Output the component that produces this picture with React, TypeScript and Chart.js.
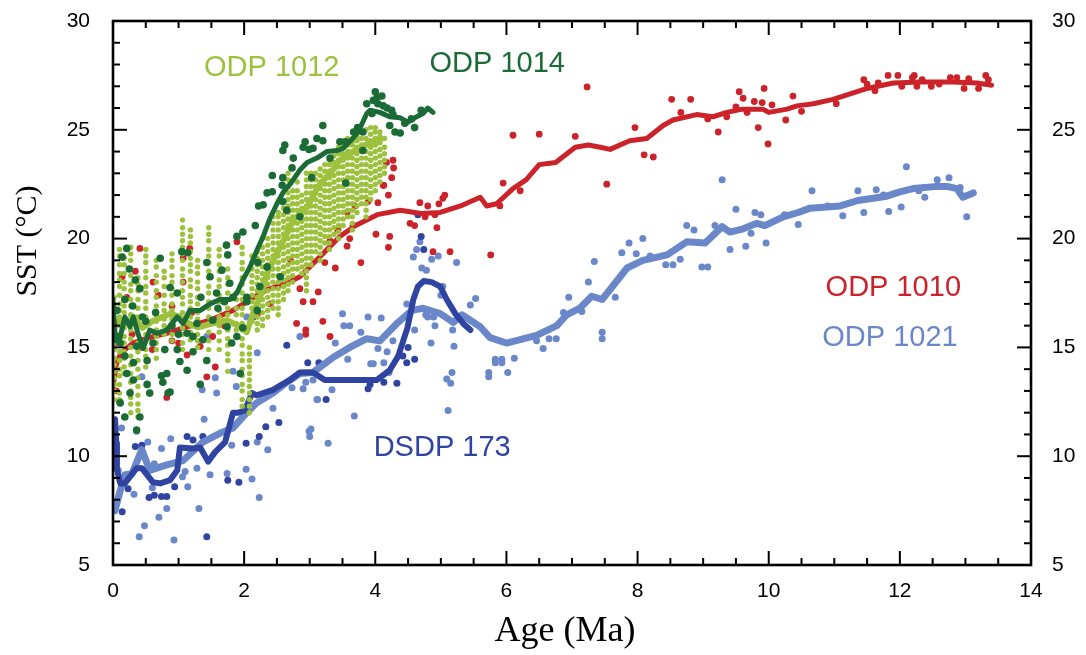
import React, { useEffect, useRef } from 'react';
import { Chart, registerables } from 'chart.js';
Chart.register(...registerables);

type P = [number, number];

// ---------- axis settings ----------
const xRange: P = [0, 14];
const yRange: P = [5, 30];
const xMajorStep = 2;
const xMinorStep = 0.5;
const yMajorStep = 5;
const yMinorStep = 1;

// ---------- ODP 1010 (red) ----------
const odp1010Line: P[] = [
  [0, 13.2], [0.05, 14.2], [0.1, 14.6], [0.15, 14.8], [0.3, 15.2], [0.5, 15.4], [0.82, 15.65], [1.13, 15.95],
  [1.48, 16.25], [1.83, 16.7], [2.09, 17.2], [2.35, 17.65], [2.65, 17.95], [2.85, 18.25], [3.1, 19.0], [3.46, 20.1],
  [3.7, 20.6], [4.03, 21.1], [4.38, 21.3], [4.7, 21.15], [4.99, 21.2], [5.3, 21.5], [5.6, 21.9], [5.7, 21.5],
  [5.85, 21.6], [6.1, 22.3], [6.3, 22.7], [6.5, 23.4], [6.75, 23.5], [7.05, 24.2], [7.25, 24.3], [7.43, 24.2],
  [7.58, 24.1], [7.88, 24.5], [8.14, 24.6], [8.39, 25.2], [8.54, 25.45], [8.9, 25.7], [9.15, 25.6], [9.36, 25.8],
  [9.6, 25.95], [9.91, 25.95], [10.0, 25.8], [10.28, 25.95], [10.43, 26.1], [10.68, 26.2], [10.98, 26.4],
  [11.29, 26.7], [11.5, 26.9], [11.9, 27.15], [12.3, 27.2], [12.8, 27.2], [13.18, 27.15], [13.4, 27.05],
];
const odp1010Pts: P[] = [
  [0.41, 19.55], [0.34, 18.5], [0.14, 18.25], [0.61, 18.0], [0.21, 17.3], [0.69, 17.4], [1.17, 19.55], [1.07, 19.1],
  [1.07, 18.0], [1.2, 16.6], [1.33, 15.05], [1.13, 14.65], [1.56, 14.1], [1.43, 13.65], [0.82, 12.7], [0.29, 15.6],
  [1.52, 15.5], [1.89, 19.85], [2.71, 19.0], [2.8, 16.1], [0.05, 13.0], [0.1, 12.5], [0.45, 15.0], [0.6, 14.9],
  [0.9, 15.3], [1.0, 15.2], [1.7, 16.0], [2.2, 16.5], [2.4, 17.0], [0.03, 15.2], [0.12, 16.2], [0.9, 16.9],
  [4.12, 22.45], [4.2, 22.0], [4.04, 21.65], [3.89, 21.7], [3.69, 21.5], [3.57, 21.2], [4.68, 21.65], [4.8, 21.5],
  [4.97, 21.6], [5.03, 21.85], [5.06, 22.0], [4.53, 20.7], [4.6, 20.6], [4.76, 21.0], [4.91, 21.1], [4.94, 20.5],
  [4.88, 19.4], [5.14, 19.4], [5.76, 19.25], [5.95, 22.55], [6.21, 22.2], [5.9, 21.5], [7.53, 22.5], [3.43, 20.4],
  [3.66, 20.6], [3.61, 20.0], [3.31, 19.9], [3.57, 19.65], [4.01, 20.2], [4.22, 20.1], [4.2, 19.6], [3.78, 18.9],
  [3.39, 18.65], [3.23, 18.9], [3.13, 17.55], [2.85, 17.7], [2.9, 17.1], [3.05, 17.1], [3.2, 16.2], [2.94, 15.8],
  [2.94, 15.6], [3.31, 15.5], [4.17, 23.5], [4.27, 23.6], [4.28, 23.25], [4.25, 22.8], [4.13, 22.45],
  [6.1, 24.75], [6.5, 24.8], [7.23, 26.97], [7.05, 24.7], [7.96, 25.1], [8.1, 23.85], [8.24, 23.75], [8.52, 26.4],
  [8.66, 25.8], [8.81, 26.4], [9.07, 25.5], [9.23, 24.9], [9.36, 25.6], [9.5, 26.05], [9.55, 26.75], [9.61, 26.45],
  [9.67, 25.8], [9.78, 26.3], [9.84, 25.1], [9.9, 26.25], [9.93, 26.9], [9.99, 24.35], [10.05, 26.15],
  [10.26, 25.45], [10.37, 26.55], [10.5, 25.85], [11.03, 26.2], [11.45, 27.3], [11.5, 27.1], [11.62, 26.8],
  [11.67, 27.15], [11.82, 27.5], [11.97, 27.5], [12.03, 27.0], [12.19, 27.4], [12.22, 27.5], [12.26, 27.0],
  [12.34, 27.3], [12.48, 27.0], [12.6, 27.1], [12.77, 27.4], [12.87, 27.4], [12.98, 26.9], [13.05, 27.35],
  [13.2, 26.9], [13.31, 27.5], [13.35, 27.3],
];

// ---------- ODP 1021 (light blue) ----------
const odp1021Line: P[] = [
  [0.03, 7.5], [0.1, 8.3], [0.18, 9.15], [0.29, 9.2], [0.44, 10.3], [0.56, 9.35], [0.82, 9.6], [1.07, 9.8],
  [1.37, 10.65], [1.63, 11.05], [1.83, 11.3], [2.04, 12.0], [2.19, 12.45], [2.44, 12.9], [2.65, 13.4], [2.85, 13.8],
  [3.05, 13.85], [3.36, 14.55], [3.61, 15.0], [3.87, 15.4], [4.07, 15.3], [4.33, 16.1], [4.56, 16.7], [4.73, 16.8],
  [4.99, 16.55], [5.19, 16.15], [5.32, 16.5], [5.6, 15.95], [5.75, 15.45], [6.0, 15.2], [6.46, 15.55], [6.77, 16.0],
  [6.92, 16.5], [7.12, 16.8], [7.3, 17.35], [7.46, 17.2], [7.84, 18.65], [8.08, 19.0], [8.45, 19.25], [8.75, 19.85],
  [9.03, 19.8], [9.29, 20.55], [9.41, 20.3], [9.61, 20.45], [9.82, 20.7], [9.94, 20.6], [10.22, 21.0],
  [10.45, 21.2], [10.63, 21.4], [11.09, 21.5], [11.36, 21.75], [11.8, 21.95], [12.0, 22.15], [12.2, 22.3],
  [12.57, 22.4], [12.72, 22.4], [12.87, 22.3], [12.96, 21.9], [13.12, 22.1],
];
const odp1021Pts: P[] = [
  [9.29, 22.7], [9.5, 21.35], [9.41, 19.5], [9.65, 19.65], [9.73, 20.25], [9.79, 21.2], [9.88, 21.1], [9.96, 19.8],
  [10.24, 21.1], [10.45, 20.65], [10.66, 22.2], [10.9, 21.5], [11.13, 21.05], [11.36, 22.2], [11.45, 21.2],
  [11.64, 22.25], [11.75, 22.0], [11.83, 21.25], [12.02, 21.45], [12.1, 23.3], [12.29, 22.2], [12.38, 21.9],
  [12.57, 22.7], [12.75, 22.8], [12.92, 22.35], [13.02, 21.0], [7.76, 19.35], [7.87, 19.8], [7.98, 19.3],
  [8.08, 20.0], [8.19, 19.2], [8.43, 18.8], [8.54, 18.8], [8.65, 19.05], [8.75, 20.6], [8.86, 20.4], [8.98, 18.7],
  [9.07, 18.7], [9.18, 20.6], [7.66, 17.3], [7.46, 15.7], [7.46, 15.4],
  [7.34, 18.95], [7.25, 18.0], [6.95, 17.3], [6.87, 16.6], [7.15, 16.65], [6.46, 15.3], [6.56, 14.95], [6.65, 15.4],
  [6.76, 15.4], [6.12, 14.5], [6.02, 13.85], [5.93, 14.45], [5.93, 14.3], [5.83, 14.45], [5.83, 14.3],
  [5.73, 13.85], [5.73, 13.65], [5.53, 17.25], [5.45, 16.95], [5.24, 18.9], [5.2, 15.05], [5.18, 15.8],
  [5.17, 13.85], [5.15, 13.35], [5.09, 13.55], [5.11, 12.1], [5.03, 17.8], [5.0, 17.4], [4.91, 16.0], [4.89, 16.4],
  [4.8, 16.4], [4.77, 16.5], [4.85, 15.2], [4.86, 19.05], [4.96, 19.2], [4.71, 18.65], [4.78, 18.55], [4.58, 19.15],
  [4.63, 19.5], [4.68, 19.85], [4.6, 15.8], [4.48, 17.0], [4.27, 15.3], [4.18, 14.8], [4.04, 14.95], [4.09, 16.35],
  [3.89, 16.4], [3.78, 15.7], [3.61, 16.0], [3.52, 16.0], [3.5, 16.55], [3.39, 15.2], [3.58, 14.45], [3.93, 14.25],
  [3.97, 14.25], [4.13, 14.3], [4.21, 13.85], [3.05, 13.5], [2.94, 13.4], [2.9, 13.1], [3.34, 13.05], [3.12, 12.6],
  [3.68, 11.85], [3.02, 11.25],
  [0.13, 11.3], [0.08, 9.35], [0.36, 11.15], [0.53, 10.65], [0.32, 8.25], [0.4, 6.3], [0.48, 6.8], [0.63, 9.65],
  [0.6, 8.55], [0.7, 7.2], [0.74, 10.35], [0.82, 7.6], [0.88, 10.8], [0.93, 6.15], [1.06, 9.05], [1.1, 9.3],
  [1.14, 8.6], [1.28, 9.45], [1.31, 7.6], [1.36, 13.05], [1.39, 11.7], [1.58, 12.9], [1.48, 9.15], [1.74, 9.2],
  [1.81, 10.5], [1.88, 13.2], [2.03, 9.4], [2.12, 8.95], [2.2, 10.65], [2.23, 8.1], [2.36, 10.3], [2.44, 12.2],
  [2.73, 13.15], [2.99, 11.15], [3.0, 10.9], [3.11, 12.6], [3.28, 10.6],
  [0.44, 13.65], [2.04, 16.4], [1.43, 15.5], [1.56, 13.6], [2.2, 14.75], [1.83, 13.9], [2.85, 15.5],
];

// ---------- DSDP 173 (dark blue) ----------
const dsdp173Line: P[] = [
  [0.03, 11.7], [0.05, 10.6], [0.06, 9.4], [0.11, 8.75], [0.18, 8.75], [0.36, 9.45], [0.44, 9.45], [0.61, 8.8],
  [0.72, 8.75], [0.87, 8.9], [0.98, 9.35], [1.02, 10.4], [1.22, 10.35], [1.33, 10.4], [1.45, 9.75], [1.56, 10.2],
  [1.71, 10.65], [1.83, 12.0], [1.91, 12.0], [2.01, 12.1], [2.12, 12.9], [2.19, 12.8], [2.29, 12.9], [2.44, 13.05],
  [2.58, 13.3], [2.7, 13.5], [2.85, 13.85], [3.05, 13.85], [3.23, 13.5], [3.46, 13.5], [3.84, 13.5], [4.02, 13.5],
  [4.22, 13.95], [4.35, 14.6], [4.49, 15.9], [4.58, 17.2], [4.65, 17.8], [4.74, 18.05], [4.86, 18.0], [4.99, 17.8],
  [5.09, 17.2], [5.22, 16.55], [5.34, 16.1], [5.45, 15.8],
];
const dsdp173Pts: P[] = [
  [4.65, 21.1], [4.7, 20.1], [4.74, 19.5], [2.97, 14.3], [3.14, 14.3], [3.25, 12.6], [3.89, 13.1], [3.92, 13.3],
  [4.13, 13.4], [4.33, 13.35], [4.42, 14.6], [4.48, 14.3], [4.6, 14.45], [0.34, 10.45], [0.44, 10.5], [0.23, 8.5],
  [0.14, 7.45], [0.55, 8.1], [0.63, 8.2], [0.74, 8.15], [0.82, 8.15], [0.94, 8.6], [1.13, 10.9], [1.22, 10.75],
  [1.37, 10.9], [1.43, 6.3], [1.75, 8.9], [1.92, 8.8], [2.03, 10.6], [2.23, 10.9], [2.33, 11.35], [2.53, 11.55],
  [0.02, 11.3], [4.5, 15.0], [2.14, 16.4], [2.65, 15.1],
];

// ---------- ODP 1014 (dark green) ----------
const odp1014Line: P[] = [
  [0, 17.2], [0.03, 15.65], [0.1, 15.35], [0.18, 16.4], [0.26, 15.95], [0.31, 16.4], [0.38, 15.65], [0.46, 14.95],
  [0.56, 15.8], [0.67, 15.65], [0.82, 15.8], [0.98, 16.4], [1.07, 16.1], [1.17, 16.7], [1.33, 16.7], [1.48, 17.0],
  [1.63, 17.2], [1.78, 17.2], [1.89, 17.5], [1.98, 18.1], [2.09, 18.7], [2.2, 19.5], [2.29, 20.1], [2.39, 20.9],
  [2.5, 21.6], [2.6, 22.15], [2.7, 22.5], [2.85, 23.15], [2.96, 23.5], [3.11, 23.7], [3.26, 24.0], [3.42, 24.05],
  [3.51, 24.15], [3.64, 24.55], [3.74, 24.9], [3.87, 25.75], [3.92, 25.9], [4.07, 25.8], [4.22, 25.6],
  [4.38, 25.55], [4.5, 25.35], [4.63, 25.6], [4.73, 25.75], [4.8, 26.0], [4.88, 25.8],
];
const odp1014Pts: P[] = [
  [0.21, 19.55], [0.14, 19.15], [0.34, 18.1], [0.41, 17.7], [0.18, 17.2], [0.72, 19.1], [0.87, 17.75], [0.98, 17.5],
  [1.05, 19.4], [1.14, 19.35], [1.43, 18.9], [1.48, 18.25], [1.34, 17.3], [1.58, 17.5], [1.66, 18.55], [1.75, 19.25],
  [1.78, 17.95], [1.83, 17.3], [2.04, 17.3], [2.21, 18.9], [2.35, 18.7], [2.24, 17.8], [2.55, 18.25], [2.65, 21.3],
  [2.59, 21.7], [0.06, 16.7], [0.06, 15.35], [0.11, 15.2], [0.18, 14.6], [0.31, 14.3], [0.21, 13.8], [0.31, 13.5],
  [0.26, 12.9], [0.11, 12.45], [0.18, 11.8], [0.36, 11.2], [0.41, 11.8], [0.52, 13.3], [0.56, 12.9], [0.74, 13.7],
  [0.76, 13.4], [0.87, 12.95], [0.82, 13.8], [0.61, 15.2], [0.79, 14.9], [0.98, 14.9], [1.02, 14.35], [1.13, 13.95],
  [1.22, 15.5], [1.37, 15.35], [1.22, 14.8], [1.43, 14.4], [1.33, 13.3], [0.84, 12.9], [0.36, 15.05], [0.52, 14.4],
  [1.13, 15.65], [1.28, 16.1], [1.52, 16.25], [1.74, 15.95], [1.81, 15.2], [1.89, 15.5], [1.98, 15.9], [1.94, 13.8],
  [2.04, 17.1], [2.2, 16.7], [2.17, 20.6], [1.89, 20.1], [1.98, 20.3], [1.73, 19.7],
  [0.5, 16.2], [0.65, 16.6], [0.9, 16.0], [1.0, 15.6], [1.6, 16.8], [1.7, 17.1], [0.3, 16.9], [0.45, 16.4], [0.25, 18.6],
  [4.0, 26.75], [4.03, 26.5], [4.1, 26.55], [3.97, 26.35], [4.04, 26.2], [4.12, 26.1], [4.18, 26.0], [4.25, 25.9],
  [4.27, 25.7], [4.22, 25.2], [4.3, 24.9], [4.38, 24.85], [3.87, 26.2], [3.95, 25.75], [3.81, 24.9], [3.73, 25.1],
  [3.67, 24.9], [3.55, 24.45], [3.55, 22.55], [3.81, 24.05], [3.46, 24.45], [3.2, 25.2], [3.11, 24.6], [3.2, 24.5],
  [2.93, 24.45], [2.9, 24.2], [3.05, 24.15], [2.99, 24.1], [2.62, 24.3], [2.59, 24.05], [2.75, 23.7], [2.73, 23.25],
  [3.31, 23.7], [3.03, 22.8], [2.59, 22.8], [2.43, 22.9], [2.58, 22.45], [2.43, 22.15], [2.35, 22.1], [2.29, 21.55],
  [2.22, 21.5], [2.85, 21.0], [4.45, 25.3], [4.55, 25.5], [4.6, 25.1], [4.7, 25.9],
];

// ---------- ODP 1012 (yellow-green) ----------
const odp1012Line: P[] = [
  [0, 15.95], [0.1, 16.25], [0.21, 16.1], [0.31, 16.4], [0.45, 15.9], [0.6, 16.2], [0.87, 16.55], [1.02, 16.4],
  [1.2, 16.0], [1.33, 15.95], [1.52, 16.1], [1.74, 16.25], [1.94, 15.95], [2.04, 15.7], [2.14, 16.6], [2.24, 17.3],
  [2.35, 18.4], [2.44, 19.0], [2.55, 19.6], [2.65, 20.25], [2.75, 20.85], [2.96, 21.45], [3.13, 22.4], [3.31, 23.0],
  [3.46, 23.6], [3.61, 23.9], [3.77, 24.2], [3.92, 24.4], [4.07, 24.5],
];
// sample columns: [age, SST values measured at that age]
const odp1012Cols: [number, number[]][] = [
  [0.02, [17.3, 17.0, 16.6, 16.2, 15.9, 15.5, 15.2, 14.9, 14.5, 14.2, 13.9, 13.6, 13.3, 13.0, 12.6]],
  [0.1, [19.5, 19.2, 18.8, 18.4, 18.1, 17.8, 17.4, 17.0, 16.7, 16.4, 16.0, 15.6, 15.2, 14.8, 14.4, 14.0, 13.7, 13.3, 12.9, 12.6]],
  [0.17, [19.1, 18.8, 18.4, 18.0, 17.7, 17.3, 16.9, 16.6, 16.2, 15.9, 15.5, 15.2, 14.8, 14.5, 14.1, 13.8]],
  [0.27, [19.6, 19.3, 19.0, 18.6, 18.3, 17.9, 17.6, 17.2, 16.9, 16.5, 16.2, 15.8, 15.4, 15.0, 14.6, 14.2, 13.8, 13.4, 13.0, 12.7, 12.4, 12.0]],
  [0.38, [18.2, 17.9, 17.6, 17.2, 16.8, 16.4, 16.0, 15.6, 15.2, 14.8, 14.4, 14.0, 13.6, 13.2, 12.8, 12.4, 12.1, 11.8]],
  [0.5, [19.5, 19.2, 18.9, 18.5, 18.2, 17.8, 17.5, 17.1, 16.8, 16.4, 16.0, 15.6, 15.3, 14.9, 14.6, 14.1]],
  [0.66, [19.0, 18.7, 18.3, 18.0, 17.6, 17.3, 16.9, 16.5, 16.2, 15.8, 15.5, 15.2, 14.9, 14.5]],
  [0.78, [18.5, 18.2, 17.8, 17.4, 17.0, 16.7, 16.3, 16.0, 15.6]],
  [0.9, [19.3, 19.0, 18.7, 18.3, 18.0, 17.7, 17.4, 17.0, 16.7, 16.3, 16.0, 15.6, 15.3]],
  [1.06, [20.85, 20.5, 20.2, 19.9, 19.6, 19.3, 19.0, 18.6, 18.3, 18.0, 17.6, 17.3, 17.0, 16.6, 16.3, 15.9, 15.6, 15.2, 14.9]],
  [1.18, [20.4, 20.1, 19.8, 19.4, 19.1, 18.8, 18.5, 18.1, 17.8, 17.4, 17.1, 16.8, 16.4, 16.1, 15.7, 15.35]],
  [1.29, [19.0, 18.7, 18.4, 18.0, 17.7, 17.3, 17.0, 16.6, 16.3, 15.9, 15.6, 15.3, 15.0]],
  [1.46, [20.5, 20.2, 19.9, 19.5, 19.2, 18.9, 18.5, 18.2, 17.8, 17.5, 17.1, 16.8, 16.4, 16.1, 15.7, 15.3, 14.9]],
  [1.62, [19.5, 19.2, 18.8, 18.5, 18.1, 17.8, 17.4, 17.1, 16.7, 16.4, 16.0, 15.7, 15.3, 14.9]],
  [1.75, [18.6, 18.2, 17.9, 17.5, 17.2, 16.8, 16.5, 16.1, 15.8, 15.4, 15.1, 14.7, 14.4, 13.9]],
  [1.88, [17.5, 17.2, 16.8, 16.5, 16.1, 15.8, 15.5]],
  [1.97, [19.6, 19.3, 18.9, 18.6, 18.2, 17.9, 17.5, 17.2, 16.8, 16.5, 16.1, 15.8, 15.4, 15.1, 14.7, 14.4, 14.0, 13.7, 13.3, 13.0, 12.6, 12.3]],
  [2.08, [15.0, 14.7, 14.4, 14.1, 13.8, 13.5, 13.2, 12.9, 12.6, 12.3, 12.0]],
  [2.12, [16.2, 16.5, 16.8, 17.1, 17.4, 17.7, 18.0, 18.3, 18.6, 18.9, 19.2]],
  [2.2, [15.8, 16.1, 16.4, 16.7, 17.0, 17.3, 17.6, 17.9, 18.2, 18.5, 18.8, 19.1, 19.4]],
  [2.28, [16.0, 16.3, 16.6, 16.9, 17.2, 17.5, 17.8, 18.1, 18.4, 18.7, 19.0, 19.3, 19.6, 20.0]],
  [2.36, [16.4, 16.7, 17.0, 17.3, 17.6, 17.9, 18.2, 18.5, 18.8, 19.1, 19.4, 19.7, 20.0]],
  [2.44, [16.8, 17.1, 17.4, 17.7, 18.0, 18.3, 18.6, 18.9, 19.2, 19.5, 19.8, 20.1, 20.4, 20.7, 21.0]],
  [2.52, [16.5, 16.8, 17.1, 17.4, 17.7, 18.0, 18.3, 18.6, 18.9, 19.2, 19.5, 19.8, 20.1, 20.4, 20.7, 21.0, 21.2]],
  [2.6, [17.2, 17.5, 17.8, 18.1, 18.4, 18.7, 19.0, 19.3, 19.6, 19.9, 20.2, 20.5, 20.8, 21.1, 21.4]],
  [2.67, [17.6, 17.9, 18.2, 18.5, 18.8, 19.1, 19.4, 19.7, 20.0, 20.3, 20.6, 20.9, 21.2, 21.5, 21.8, 22.1, 22.4, 22.7, 23.0]],
  [2.74, [18.0, 18.3, 18.6, 18.9, 19.2, 19.5, 19.8, 20.1, 20.4, 20.7, 21.0, 21.3, 21.6, 21.9, 22.2]],
  [2.81, [18.6, 18.9, 19.2, 19.5, 19.8, 20.1, 20.4, 20.7, 21.0, 21.3, 21.6, 21.9, 22.2, 22.6]],
  [2.88, [18.4, 18.7, 19.0, 19.3, 19.6, 19.9, 20.2, 20.5, 20.8, 21.1, 21.4, 21.7, 22.0]],
  [2.95, [17.6, 17.9, 18.2, 18.5, 18.8, 19.1, 19.4, 19.7, 20.0, 20.3, 20.6, 20.9, 21.2, 21.5, 21.8, 22.1, 22.4, 22.7, 23.0]],
  [3.02, [18.8, 19.1, 19.4, 19.7, 20.0, 20.3, 20.6, 20.9, 21.2, 21.5, 21.8, 22.1, 22.4, 22.7, 23.0]],
  [3.09, [19.4, 19.7, 20.0, 20.3, 20.6, 20.9, 21.2, 21.5, 21.8, 22.1, 22.4, 22.7, 23.0]],
  [3.16, [19.0, 19.3, 19.6, 19.9, 20.2, 20.5, 20.8, 21.1, 21.4, 21.7, 22.0, 22.3, 22.6, 22.9, 23.2]],
  [3.23, [19.8, 20.1, 20.4, 20.7, 21.0, 21.3, 21.6, 21.9, 22.2, 22.5, 22.8, 23.1, 23.4]],
  [3.3, [19.5, 19.8, 20.1, 20.4, 20.7, 21.0, 21.3, 21.6, 21.9, 22.2, 22.5, 22.8, 23.1, 23.4, 23.6]],
  [3.37, [20.2, 20.5, 20.8, 21.1, 21.4, 21.7, 22.0, 22.3, 22.6, 22.9, 23.2, 23.5, 23.8]],
  [3.44, [20.0, 20.3, 20.6, 20.9, 21.2, 21.5, 21.8, 22.1, 22.4, 22.7, 23.0, 23.3, 23.6, 23.9, 24.2]],
  [3.51, [20.6, 20.9, 21.2, 21.5, 21.8, 22.1, 22.4, 22.7, 23.0, 23.3, 23.6, 23.9, 24.2, 24.5]],
  [3.58, [21.0, 21.3, 21.6, 21.9, 22.2, 22.5, 22.8, 23.1, 23.4, 23.7, 24.0, 24.3, 24.6]],
  [3.65, [20.4, 20.7, 21.0, 21.3, 21.6, 21.9, 22.2, 22.5, 22.8, 23.1, 23.4, 23.7, 24.0, 24.3, 24.5]],
  [3.72, [21.2, 21.5, 21.8, 22.1, 22.4, 22.7, 23.0, 23.3, 23.6, 23.9, 24.2, 24.5, 24.7]],
  [3.79, [21.6, 21.9, 22.2, 22.5, 22.8, 23.1, 23.4, 23.7, 24.0, 24.3, 24.6]],
  [3.86, [21.0, 21.3, 21.6, 21.9, 22.2, 22.5, 22.8, 23.1, 23.4, 23.7, 24.0, 24.3, 24.6, 25.0]],
  [3.93, [21.8, 22.1, 22.4, 22.7, 23.0, 23.3, 23.6, 23.9, 24.2, 24.5, 24.8, 25.1]],
  [4.0, [22.2, 22.5, 22.8, 23.1, 23.4, 23.7, 24.0, 24.3, 24.6, 24.9, 25.1]],
  [4.07, [22.6, 22.9, 23.2, 23.5, 23.8, 24.1, 24.4, 24.7, 24.9]],
  [4.14, [23.0, 23.3, 23.6, 23.9, 24.2, 24.6]],
];

// ---------- labels ----------
const seriesLabels: { text: string; x: number; y: number; color: string }[] = [
  { text: 'ODP 1012', x: 2.42, y: 27.84, color: '#9dc13c' },
  { text: 'ODP 1014', x: 5.86, y: 28.02, color: '#1b6b37' },
  { text: 'ODP 1010', x: 11.9, y: 17.73, color: '#cc2229' },
  { text: 'ODP 1021', x: 11.85, y: 15.43, color: '#6a87c9' },
  { text: 'DSDP 173', x: 5.02, y: 10.38, color: '#2f44a0' },
];
const xTitle = 'Age (Ma)';
const yTitle = 'SST (°C)';

const C = {
  red: '#cc2229',
  light: '#6a87c9',
  dark: '#2f44a0',
  yellow: '#9dc13c',
  green: '#1b6b37',
};

const toXY = (a: P[]) => a.map(([x, y]) => ({ x, y }));
const odp1012Pts: P[] = odp1012Cols.flatMap(([x, ys]) => ys.map((y) => [x, y] as P));

const SANS = '"Liberation Sans", Arial, sans-serif';
const SERIF = '"Liberation Serif", "Times New Roman", serif';

const framePlugin = {
  id: 'frameTicks',
  afterDraw(chart: any) {
    const { ctx, chartArea: a, scales } = chart;
    const xs = scales.x;
    const ys = scales.y;
    ctx.save();
    ctx.strokeStyle = '#000';
    ctx.lineWidth = 2;
    const seg = (x1: number, y1: number, x2: number, y2: number) => {
      ctx.beginPath();
      ctx.moveTo(x1, y1);
      ctx.lineTo(x2, y2);
      ctx.stroke();
    };
    const nX = Math.round((xs.max - xs.min) / xMinorStep);
    for (let i = 1; i < nX; i++) {
      const v = xs.min + i * xMinorStep;
      const px = xs.getPixelForValue(v);
      const major = Math.abs(v / xMajorStep - Math.round(v / xMajorStep)) < 1e-6;
      const len = major ? 14 : 7;
      seg(px, a.bottom, px, a.bottom - len);
      seg(px, a.top, px, a.top + len);
    }
    const nY = Math.round((ys.max - ys.min) / yMinorStep);
    for (let i = 1; i < nY; i++) {
      const v = ys.min + i * yMinorStep;
      const py = ys.getPixelForValue(v);
      const major = Math.abs(v / yMajorStep - Math.round(v / yMajorStep)) < 1e-6;
      const len = major ? 14 : 7;
      seg(a.left, py, a.left + len, py);
      seg(a.right, py, a.right - len, py);
    }
    ctx.lineWidth = 2.6;
    ctx.strokeRect(a.left, a.top, a.right - a.left, a.bottom - a.top);

    // series labels
    ctx.textAlign = 'center';
    ctx.textBaseline = 'middle';
    ctx.font = `29px ${SANS}`;
    for (const l of seriesLabels) {
      ctx.fillStyle = l.color;
      ctx.fillText(l.text, xs.getPixelForValue(l.x), ys.getPixelForValue(l.y));
    }
    // axis titles
    ctx.fillStyle = '#000';
    ctx.font = `36px ${SERIF}`;
    ctx.fillText(xTitle, (a.left + a.right) / 2 - 7, 632);
    ctx.save();
    ctx.translate(28, 241);
    ctx.rotate(-Math.PI / 2);
    ctx.font = `30px ${SERIF}`;
    ctx.fillText(yTitle, 0, 0);
    ctx.restore();
    ctx.restore();
  },
};

export default function App() {
  const ref = useRef<HTMLCanvasElement | null>(null);
  useEffect(() => {
    if (!ref.current) return;
    const lineDs = (label: string, d: P[], color: string, w: number) => ({
      type: 'line' as const,
      label,
      data: toXY(d),
      borderColor: color,
      backgroundColor: color,
      borderWidth: w,
      pointRadius: 0,
      tension: 0,
      fill: false,
      borderJoinStyle: 'round' as const,
      borderCapStyle: 'round' as const,
    });
    const dotDs = (label: string, d: P[], color: string, r: number) => ({
      type: 'scatter' as const,
      label,
      data: toXY(d),
      backgroundColor: color,
      borderColor: color,
      borderWidth: 0,
      pointRadius: r,
      showLine: false,
    });
    const tickFont = { family: SANS, size: 21 };
    const noPadV = (s: any) => { s.paddingTop = 0; s.paddingBottom = 0; };
    const noPadH = (s: any) => { s.paddingLeft = 0; s.paddingRight = 0; };
    const chart = new Chart(ref.current, {
      type: 'scatter',
      data: {
        datasets: [
          lineDs('ODP 1014', odp1014Line, C.green, 5),
          dotDs('ODP 1014 pts', odp1014Pts, C.green, 3.8),
          lineDs('ODP 1012', odp1012Line, C.yellow, 6),
          dotDs('ODP 1012 pts', odp1012Pts, C.yellow, 2.7),
          lineDs('ODP 1010', odp1010Line, C.red, 5),
          dotDs('ODP 1010 pts', odp1010Pts, C.red, 3.4),
          lineDs('DSDP 173', dsdp173Line, C.dark, 6),
          lineDs('ODP 1021', odp1021Line, C.light, 7),
          dotDs('DSDP 173 pts', dsdp173Pts, C.dark, 3.5),
          dotDs('ODP 1021 pts', odp1021Pts, C.light, 3.5),
        ] as any,
      },
      options: {
        responsive: false,
        animation: false,
        devicePixelRatio: 1,
        layout: { padding: 0 },
        plugins: { legend: { display: false }, tooltip: { enabled: false } },
        scales: {
          x: {
            type: 'linear',
            position: 'bottom',
            min: xRange[0],
            max: xRange[1],
            grid: { display: false, drawTicks: false },
            border: { display: false },
            ticks: { stepSize: xMajorStep, font: tickFont, color: '#000', padding: 14, maxRotation: 0, autoSkip: false },
            afterFit: (s: any) => { s.height = 90; noPadH(s); },
          },
          xTop: {
            type: 'linear',
            position: 'top',
            min: xRange[0],
            max: xRange[1],
            grid: { display: false, drawTicks: false },
            border: { display: false },
            ticks: { display: false },
            afterFit: (s: any) => { s.height = 21; noPadH(s); },
          },
          y: {
            type: 'linear',
            position: 'left',
            min: yRange[0],
            max: yRange[1],
            grid: { display: false, drawTicks: false },
            border: { display: false },
            ticks: { stepSize: yMajorStep, font: tickFont, color: '#000', padding: 23 },
            afterFit: (s: any) => { s.width = 113; noPadV(s); },
          },
          yRight: {
            type: 'linear',
            position: 'right',
            min: yRange[0],
            max: yRange[1],
            grid: { display: false, drawTicks: false },
            border: { display: false },
            ticks: { stepSize: yMajorStep, font: tickFont, color: '#000', padding: 21 },
            afterFit: (s: any) => { s.width = 55; noPadV(s); },
          },
        },
      } as any,
      plugins: [framePlugin],
    });
    return () => chart.destroy();
  }, []);
  return (
    <div style={{ position: 'fixed', left: 0, top: 0, width: 1086, height: 655, background: '#fff' }}>
      <canvas ref={ref} width={1086} height={655} style={{ width: 1086, height: 655, display: 'block' }} />
    </div>
  );
}
